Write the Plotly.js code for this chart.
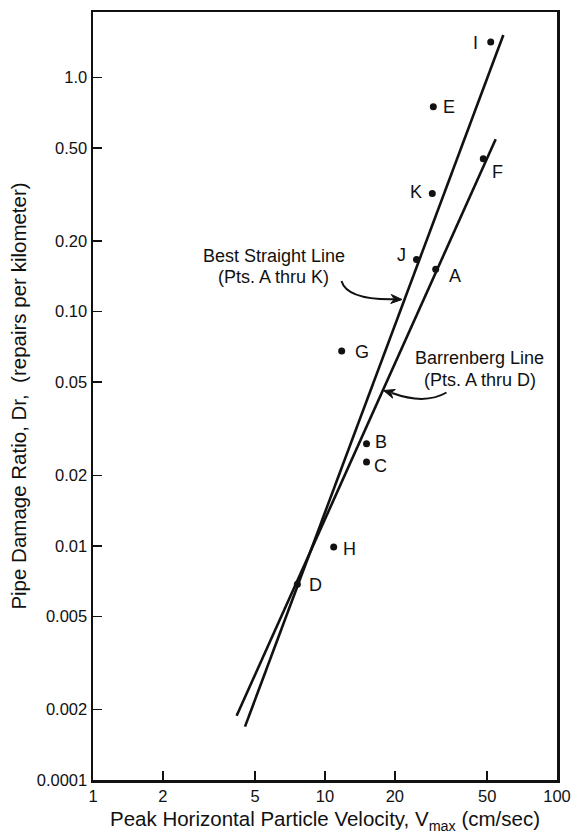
<!DOCTYPE html>
<html>
<head>
<meta charset="utf-8">
<script src="https://cdn.plot.ly/plotly-3.0.1.min.js"></script>
<style>html,body{margin:0;padding:0;background:#fff;}#chart{width:571px;height:837px;}</style>
</head>
<body>
<div id="chart"></div>
<script>
// ---- data ----
var pointLabels = ['A','B','C','D','E','F','G','H','I','J','K'];
var vmax = [30.0, 15.1, 15.1, 7.6, 29.3, 48.1, 11.8, 10.9, 51.8, 24.8, 29.0];
var damageRatio = [0.152, 0.0273, 0.0228, 0.00685, 0.75, 0.45, 0.068, 0.0099, 1.42, 0.167, 0.32];

var bestLineX = [4.52, 58.7];
var bestLineY = [0.00169, 1.52];
var barrenbergX = [4.16, 54.4];
var barrenbergY = [0.00188, 0.545];

var xTickVals = [1, 2, 5, 10, 20, 50, 100];
var xTickText = ['1', '2', '5', '10', '20', '50', '100'];
var yTickVals = [0.001, 0.002, 0.005, 0.01, 0.02, 0.05, 0.1, 0.2, 0.5, 1.0];
var yTickText = ['0.0001', '0.002', '0.005', '0.01', '0.02', '0.05', '0.10', '0.20', '0.50', '1.0'];

// ---- styling / layout helpers ----
var FONT = 'Liberation Sans, Arial, Helvetica, sans-serif';
var INK = '#111';
var W = 571, H = 837;
var M = {l: 93, r: 14, t: 12, b: 57};
var plotW = W - M.l - M.r, plotH = H - M.t - M.b;
function px(x) { return (x - M.l) / plotW; }
function py(y) { return (H - M.b - y) / plotH; }

// label offsets in pixels [dx, dy(up)]
var labelOffsets = {
  A: [19, -7], B: [14, 2], C: [14, -4], D: [18, -1], E: [16, 0], F: [14, -13],
  G: [20, -1], H: [16, -2], I: [-15, -1], J: [-15, 5], K: [-16, 1]
};

var traces = [
  {x: bestLineX, y: bestLineY, type: 'scatter', mode: 'lines',
   line: {color: INK, width: 2.6}, hoverinfo: 'skip', showlegend: false},
  {x: barrenbergX, y: barrenbergY, type: 'scatter', mode: 'lines',
   line: {color: INK, width: 2.6}, hoverinfo: 'skip', showlegend: false},
  {x: vmax, y: damageRatio, text: pointLabels, type: 'scatter', mode: 'markers',
   marker: {color: INK, size: 7}, showlegend: false}
];

var annotations = pointLabels.map(function (lab, i) {
  var o = labelOffsets[lab];
  return {x: Math.log10(vmax[i]), y: Math.log10(damageRatio[i]), xref: 'x', yref: 'y',
    text: lab, showarrow: false, xshift: o[0], yshift: o[1],
    font: {family: FONT, size: 18, color: INK}};
});

function textAnn(x, y, t) {
  return {x: px(x), y: py(y), xref: 'paper', yref: 'paper', text: t, showarrow: false,
    xanchor: 'center', yanchor: 'middle', font: {family: FONT, size: 18, color: INK}};
}
annotations.push(textAnn(273.5, 256, 'Best Straight Line'));
annotations.push(textAnn(273.5, 276.7, '(Pts. A thru K)'));
annotations.push(textAnn(479.5, 357.7, 'Barrenberg Line'));
annotations.push(textAnn(479.5, 380, '(Pts. A thru D)'));

function curve(p0, c, p2) {
  return {type: 'path', xref: 'paper', yref: 'paper',
    path: 'M ' + px(p0[0]) + ',' + py(p0[1]) + ' Q ' + px(c[0]) + ',' + py(c[1]) + ' ' + px(p2[0]) + ',' + py(p2[1]),
    line: {color: INK, width: 2}};
}
function head(tip, tail, len, half) {
  var dx = tip[0] - tail[0], dy = tip[1] - tail[1];
  var n = Math.sqrt(dx * dx + dy * dy); dx /= n; dy /= n;
  var bx = tip[0] - len * dx, by = tip[1] - len * dy;
  var ix = tip[0] - 0.7 * len * dx, iy = tip[1] - 0.7 * len * dy;
  var p1 = [bx - half * dy, by + half * dx], p2 = [bx + half * dy, by - half * dx];
  return {type: 'path', xref: 'paper', yref: 'paper',
    path: 'M ' + px(tip[0]) + ',' + py(tip[1]) + ' L ' + px(p1[0]) + ',' + py(p1[1]) +
      ' L ' + px(ix) + ',' + py(iy) + ' L ' + px(p2[0]) + ',' + py(p2[1]) + ' Z',
    fillcolor: INK, line: {color: INK, width: 1}};
}
var shapes = [
  curve([341.5, 281], [347, 300], [394, 299.2]),
  head([402, 299.5], [392, 299], 11, 4.5),
  curve([446.5, 392.5], [425, 405], [392, 393]),
  head([383.5, 390.5], [393, 393.5], 11, 4.5)
];

var axisCommon = {
  type: 'log', showgrid: false, zeroline: false, showline: true, mirror: true,
  linecolor: INK, linewidth: 2.5, ticks: 'inside', ticklen: 9, tickwidth: 1.5,
  tickcolor: INK, tickmode: 'array', tickfont: {family: FONT, size: 16.5, color: INK}
};

var layout = {
  width: W, height: H, margin: M, paper_bgcolor: '#fff', plot_bgcolor: '#fff',
  font: {family: FONT, color: INK},
  xaxis: Object.assign({}, axisCommon, {
    range: [0, 2], tickvals: xTickVals, ticktext: xTickText,
    title: {text: 'Peak Horizontal Particle Velocity, V<sub>max</sub> (cm/sec)',
      font: {family: FONT, size: 20.5, color: INK}, standoff: 8}
  }),
  yaxis: Object.assign({}, axisCommon, {
    range: [-3, 0.28], tickvals: yTickVals, ticktext: yTickText,
    title: {text: 'Pipe Damage Ratio, Dr,\u00a0 (repairs per kilometer)\u00a0\u00a0',
      font: {family: FONT, size: 20.5, color: INK}, standoff: 5}
  }),
  annotations: annotations,
  shapes: shapes
};

Plotly.newPlot('chart', traces, layout, {staticPlot: true, displayModeBar: false});
</script>
</body>
</html>
